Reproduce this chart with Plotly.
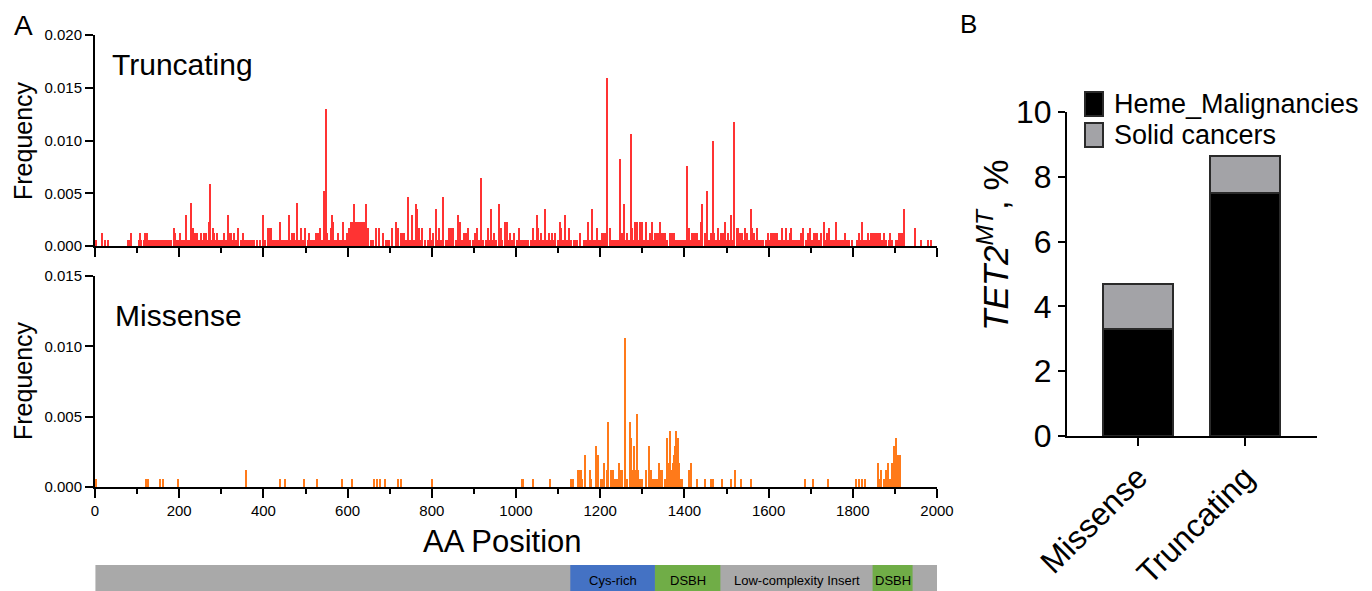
import plotly.graph_objects as go

# ---------------- data ----------------
trunc_pos = [
    2, 16, 23, 30, 78, 80, 83, 86, 104, 108,
    110, 117, 120, 123, 125, 131, 136, 139, 143, 147,
    152, 156, 160, 164, 168, 173, 177, 181, 188, 191,
    194, 198, 201, 204, 208, 212, 216, 220, 224, 228,
    234, 238, 242, 245, 249, 252, 256, 260, 264, 268,
    271, 273, 276, 280, 283, 287, 291, 295, 299, 303,
    307, 311, 316, 320, 323, 327, 331, 335, 341, 346,
    351, 355, 359, 363, 367, 371, 375, 379, 384, 391,
    400, 404, 410, 414, 418, 422, 426, 430, 434, 439,
    444, 450, 453, 457, 460, 465, 469, 473, 477, 480,
    485, 489, 495, 499, 505, 509, 513, 517, 521, 525,
    529, 534, 539, 542, 545, 549, 552, 556, 560, 563,
    566, 570, 574, 578, 582, 586, 590, 594, 598, 603,
    608, 612, 615, 618, 622, 626, 630, 634, 638, 643,
    649, 655, 660, 667, 675, 685, 691, 695, 699, 705,
    716, 721, 726, 730, 734, 738, 744, 748, 752, 757,
    762, 764, 770, 774, 778, 783, 790, 795, 800, 804,
    810, 814, 817, 822, 827, 833, 837, 841, 845, 851,
    857, 863, 866, 871, 877, 881, 887, 892, 898, 904,
    908, 912, 917, 922, 928, 933, 937, 940, 944, 948,
    953, 960, 964, 968, 973, 978, 983, 987, 991, 995,
    1002, 1007, 1011, 1015, 1020, 1025, 1029, 1035, 1040, 1045,
    1049, 1053, 1057, 1060, 1065, 1070, 1074, 1078, 1082, 1086,
    1090, 1094, 1099, 1105, 1108, 1112, 1116, 1122, 1127, 1132,
    1138, 1142, 1145, 1153, 1161, 1167, 1172, 1176, 1180, 1185,
    1189, 1193, 1197, 1201, 1205, 1209, 1213, 1217, 1223, 1227,
    1231, 1235, 1239, 1243, 1247, 1251, 1254, 1256, 1259, 1263,
    1266, 1270, 1273, 1276, 1279, 1282, 1285, 1288, 1291, 1294,
    1297, 1300, 1304, 1308, 1310, 1314, 1318, 1323, 1327, 1331,
    1335, 1339, 1343, 1347, 1351, 1355, 1359, 1367, 1371, 1375,
    1380, 1385, 1390, 1395, 1399, 1402, 1406, 1410, 1414, 1418,
    1422, 1426, 1430, 1434, 1439, 1442, 1448, 1451, 1455, 1459,
    1463, 1467, 1471, 1475, 1479, 1483, 1487, 1491, 1494, 1497,
    1501, 1504, 1507, 1510, 1514, 1519, 1524, 1527, 1530, 1533,
    1537, 1540, 1543, 1546, 1550, 1553, 1558, 1561, 1565, 1569,
    1573, 1577, 1581, 1588, 1594, 1598, 1602, 1607, 1611, 1616,
    1620, 1624, 1629, 1633, 1637, 1641, 1646, 1650, 1654, 1658,
    1664, 1668, 1673, 1678, 1683, 1689, 1694, 1699, 1703, 1707,
    1711, 1715, 1720, 1725, 1731, 1735, 1739, 1744, 1749, 1753,
    1757, 1761, 1765, 1770, 1774, 1779, 1782, 1787, 1792, 1798,
    1810, 1814, 1818, 1823, 1826, 1831, 1836, 1840, 1844, 1849,
    1853, 1857, 1861, 1865, 1869, 1874, 1879, 1885, 1889, 1893,
    1902, 1906, 1910, 1914, 1917, 1921, 1947, 1962, 1980, 1985,
]
trunc_freq = [
    .0006, .0012, .0006, .0006, .0006, .0006, .0006, .0012, .0006, .0012,
    .0006, .0006, .0012, .0012, .0006, .0006, .0006, .0006, .0006, .0006,
    .0006, .0006, .0006, .0006, .0006, .0006, .0006, .0006, .0017, .0012,
    .0006, .0006, .0012, .0006, .0006, .0006, .0029, .0006, .0006, .0041,
    .0017, .0012, .0012, .0006, .0006, .0012, .0006, .0012, .0012, .0006,
    .0023, .0059, .0006, .0017, .0012, .0006, .0012, .0006, .0006, .0006,
    .0012, .0006, .0029, .0012, .0012, .0006, .0012, .0006, .0017, .0006,
    .0012, .0006, .0006, .0006, .0006, .0006, .0006, .0006, .0006, .0006,
    .0029, .0006, .0017, .0017, .0017, .0006, .0006, .0006, .0006, .0023,
    .0006, .0006, .0006, .0006, .0029, .0006, .0012, .0012, .0006, .0041,
    .0006, .0017, .0006, .0017, .0006, .0012, .0006, .0006, .0006, .0012,
    .0012, .0017, .0006, .0006, .0052, .0130, .0012, .0006, .0017, .0029,
    .0023, .0006, .0006, .0012, .0006, .0006, .0023, .0006, .0012, .0017,
    .0023, .0023, .0040, .0023, .0023, .0023, .0023, .0023, .0023, .0040,
    .0017, .0006, .0006, .0017, .0017, .0012, .0006, .0006, .0006, .0017,
    .0023, .0017, .0012, .0012, .0012, .0006, .0046, .0006, .0029, .0006,
    .0040, .0035, .0017, .0006, .0017, .0006, .0006, .0017, .0006, .0012,
    .0035, .0006, .0017, .0006, .0046, .0006, .0006, .0017, .0017, .0017,
    .0006, .0029, .0023, .0006, .0012, .0012, .0017, .0006, .0006, .0012,
    .0017, .0006, .0064, .0006, .0006, .0017, .0006, .0035, .0006, .0012,
    .0006, .0040, .0017, .0006, .0023, .0023, .0006, .0012, .0006, .0012,
    .0006, .0017, .0006, .0006, .0006, .0006, .0006, .0006, .0017, .0006,
    .0029, .0017, .0006, .0012, .0006, .0035, .0006, .0012, .0006, .0012,
    .0006, .0012, .0006, .0023, .0017, .0006, .0029, .0006, .0017, .0006,
    .0006, .0006, .0006, .0012, .0006, .0006, .0023, .0006, .0035, .0006,
    .0006, .0017, .0006, .0006, .0012, .0012, .0012, .0159, .0017, .0006,
    .0006, .0006, .0006, .0006, .0082, .0012, .0006, .0040, .0006, .0012,
    .0006, .0006, .0106, .0017, .0006, .0023, .0006, .0023, .0006, .0023,
    .0006, .0023, .0006, .0012, .0023, .0006, .0012, .0023, .0006, .0012,
    .0012, .0012, .0023, .0012, .0012, .0012, .0006, .0012, .0012, .0012,
    .0006, .0006, .0006, .0006, .0006, .0006, .0076, .0017, .0006, .0012,
    .0012, .0012, .0012, .0006, .0023, .0040, .0012, .0006, .0052, .0006,
    .0012, .0100, .0012, .0006, .0017, .0006, .0012, .0012, .0006, .0023,
    .0006, .0012, .0006, .0029, .0006, .0118, .0017, .0017, .0006, .0012,
    .0012, .0006, .0017, .0012, .0012, .0006, .0035, .0017, .0012, .0006,
    .0017, .0006, .0006, .0006, .0006, .0012, .0006, .0012, .0012, .0012,
    .0012, .0006, .0006, .0017, .0006, .0017, .0006, .0012, .0017, .0006,
    .0006, .0006, .0006, .0012, .0017, .0006, .0012, .0017, .0006, .0012,
    .0012, .0012, .0006, .0012, .0023, .0006, .0012, .0017, .0006, .0006,
    .0006, .0023, .0006, .0006, .0006, .0006, .0012, .0006, .0006, .0006,
    .0006, .0012, .0006, .0023, .0006, .0006, .0012, .0006, .0012, .0012,
    .0012, .0012, .0012, .0012, .0006, .0012, .0006, .0006, .0012, .0006,
    .0006, .0006, .0012, .0012, .0012, .0035, .0017, .0006, .0006, .0006,
]

mis_pos = [
    3, 122, 126, 155, 162, 197, 358, 440, 451, 497,
    527, 588, 611, 664, 669, 678, 690, 719, 727, 801,
    1014, 1016, 1041, 1082, 1131, 1135, 1147, 1151, 1154, 1157,
    1165, 1175, 1179, 1191, 1194, 1201, 1205, 1209, 1217, 1219,
    1227, 1230, 1235, 1239, 1244, 1247, 1252, 1260, 1264, 1270,
    1273, 1278, 1281, 1284, 1287, 1290, 1294, 1300, 1308, 1317,
    1320, 1326, 1331, 1335, 1339, 1344, 1347, 1355, 1358, 1360,
    1363, 1366, 1369, 1372, 1375, 1377, 1379, 1381, 1384, 1386,
    1388, 1391, 1395, 1412, 1417, 1430, 1448, 1464, 1467, 1490,
    1511, 1520, 1535, 1558, 1687, 1705, 1741, 1808, 1815, 1821,
    1828, 1861, 1865, 1868, 1874, 1878, 1881, 1884, 1889, 1893,
    1896, 1899, 1901, 1904, 1907, 1913,
]
mis_freq = [
    .0006, .0006, .0006, .0006, .0006, .0006, .0012, .0006, .0006, .0006,
    .0006, .0006, .0006, .0006, .0006, .0006, .0006, .0006, .0006, .0006,
    .0006, .0006, .0006, .0006, .0006, .0006, .0012, .0012, .0012, .0006,
    .0023, .0012, .0006, .0029, .0023, .0006, .0006, .0017, .0012, .0046,
    .0012, .0012, .0006, .0006, .0017, .0012, .0012, .0106, .0006, .0046,
    .0035, .0012, .0029, .0012, .0052, .0012, .0006, .0006, .0012, .0029,
    .0012, .0006, .0006, .0006, .0017, .0012, .0012, .0006, .0035, .0023,
    .0017, .0040, .0012, .0017, .0023, .0029, .0017, .0040, .0035, .0023,
    .0017, .0006, .0006, .0012, .0017, .0006, .0006, .0006, .0006, .0006,
    .0006, .0012, .0006, .0006, .0006, .0006, .0006, .0006, .0006, .0006,
    .0006, .0017, .0006, .0012, .0006, .0012, .0006, .0017, .0006, .0017,
    .0012, .0029, .0017, .0035, .0023, .0023,
]

# protein domain map (AA positions)
protein_span = [1, 2002]
domain_names = ["Cys-rich", "DSBH", "Low-complexity Insert", "DSBH"]
domain_start = [1129, 1330, 1486, 1847]
domain_end = [1330, 1486, 1847, 1942]
domain_colors = ["#4472c4", "#70ad47", "#a9a9a9", "#70ad47"]

# panel B
mut_types = ["Missense", "Truncating"]
heme_pct = [3.3, 7.5]
solid_pct = [1.4, 1.15]
series_names = ["Heme_Malignancies", "Solid cancers"]
series_colors = ["#000000", "#a3a3a7"]

# ---------------- layout helpers ----------------
W, H = 1372, 591
OFF = 8  # page body margin offset
FONT = "Liberation Sans, Arial, Helvetica, sans-serif"


def px(x):
    return (x - OFF) / W


def py(y):
    return 1 - (y - OFF) / H


fig = go.Figure()

fig.add_trace(go.Bar(
    x=trunc_pos, y=trunc_freq, width=2.8, xaxis="x", yaxis="y",
    marker=dict(color="#ff3333", line=dict(width=0)),
    showlegend=False, hoverinfo="x+y"))
fig.add_trace(go.Bar(
    x=mis_pos, y=mis_freq, width=2.8, xaxis="x2", yaxis="y2",
    marker=dict(color="#ff7a1a", line=dict(width=0)),
    showlegend=False, hoverinfo="x+y"))

for vals, name, col in zip([heme_pct, solid_pct], series_names, series_colors):
    fig.add_trace(go.Bar(
        x=mut_types, y=vals, name=name, width=0.655, xaxis="x3", yaxis="y3",
        marker=dict(color=col, line=dict(color="#2a2a2a", width=2)),
        showlegend=False))

axis_common = dict(showline=True, linecolor="black", linewidth=2, ticks="outside",
                   tickcolor="black", tickwidth=2, showgrid=False, zeroline=False,
                   automargin=False)
small_font = dict(family=FONT, size=15, color="black")
big_font = dict(family=FONT, size=32, color="black")

xl = [px(95), px(937)]
minor_ticks = dict(dtick=100, ticklen=5, tickwidth=2, tickcolor="black", ticks="outside")
fig.update_layout(
    template="none",
    width=W, height=H, margin=dict(l=0, r=0, t=0, b=0, pad=0, autoexpand=False),
    paper_bgcolor="white", plot_bgcolor="white",
    barmode="stack", bargap=0,
    font=dict(family=FONT, color="black"),
    xaxis=dict(domain=xl, range=[0, 2000], anchor="y", dtick=200, ticklen=9,
               showticklabels=False, minor=minor_ticks, tickfont=small_font, **axis_common),
    yaxis=dict(domain=[py(246), py(35)], range=[0, 0.020], anchor="x", dtick=0.005,
               tickformat=".3f", ticklen=8, tickfont=small_font, **axis_common),
    xaxis2=dict(domain=xl, range=[0, 2000], anchor="y2", dtick=200, ticklen=9,
                minor=minor_ticks, tickfont=small_font, **axis_common),
    yaxis2=dict(domain=[py(487), py(276)], range=[0, 0.015], anchor="x2", dtick=0.005,
                tickformat=".3f", ticklen=8, tickfont=small_font, **axis_common),
    xaxis3=dict(domain=[px(1067), px(1317)], range=[-0.664, 1.673], anchor="y3",
                type="category", ticklen=8, tickangle=-45, tickfont=big_font, **axis_common),
    yaxis3=dict(domain=[py(436), py(112)], range=[0, 10], anchor="x3", dtick=2,
                ticklen=7, tickfont=big_font, **axis_common),
)

# protein bar
fig.add_shape(type="rect", xref="x2", yref="paper", x0=protein_span[0], x1=protein_span[1],
              y0=py(591), y1=py(565), fillcolor="#a9a9a9", line=dict(width=0), layer="below")
for name, s, e, c in zip(domain_names, domain_start, domain_end, domain_colors):
    fig.add_shape(type="rect", xref="x2", yref="paper", x0=s, x1=e,
                  y0=py(591), y1=py(565), fillcolor=c, line=dict(width=0))
    fig.add_annotation(xref="x2", yref="paper", x=(s + e) / 2, y=py(580), text=name,
                       showarrow=False, yanchor="middle",
                       font=dict(family=FONT, size=13, color="black"))

ann = [
    dict(x=px(23), y=py(26), text="A", size=28, xanchor="center"),
    dict(x=px(968), y=py(24), text="B", size=26, xanchor="center"),
    dict(x=px(110), y=py(65), text="Truncating", size=30, xanchor="left"),
    dict(x=px(113), y=py(315), text="Missense", size=30, xanchor="left"),
    dict(x=px(502), y=py(541), text="AA Position", size=31, xanchor="center"),
]
for a in ann:
    fig.add_annotation(xref="paper", yref="paper", x=a["x"], y=a["y"], text=a["text"],
                       xanchor=a["xanchor"], yanchor="middle", showarrow=False,
                       font=dict(family=FONT, size=a["size"], color="black"))
for yc in [141, 381]:
    fig.add_annotation(xref="paper", yref="paper", x=px(23), y=py(yc), text="Frequency",
                       textangle=-90, showarrow=False, xanchor="center", yanchor="middle",
                       font=dict(family=FONT, size=25, color="black"))
fig.add_annotation(xref="paper", yref="paper", x=px(993), y=py(245),
                   text="<i>TET2<sup>MT</sup></i>, %", textangle=-90, showarrow=False,
                   xanchor="center", yanchor="middle",
                   font=dict(family=FONT, size=35, color="black"))

# legend for panel B
leg_y = [104, 135]
for name, col, yc in zip(series_names, series_colors, leg_y):
    fig.add_shape(type="rect", xref="paper", yref="paper", x0=px(1085), x1=px(1103),
                  y0=py(yc + 12), y1=py(yc - 12), fillcolor=col,
                  line=dict(color="#2a2a2a", width=2))
    fig.add_annotation(xref="paper", yref="paper", x=px(1112), y=py(yc), text=name,
                       xanchor="left", yanchor="middle", showarrow=False,
                       font=dict(family=FONT, size=27, color="black"))

fig.write_html("out.html")
